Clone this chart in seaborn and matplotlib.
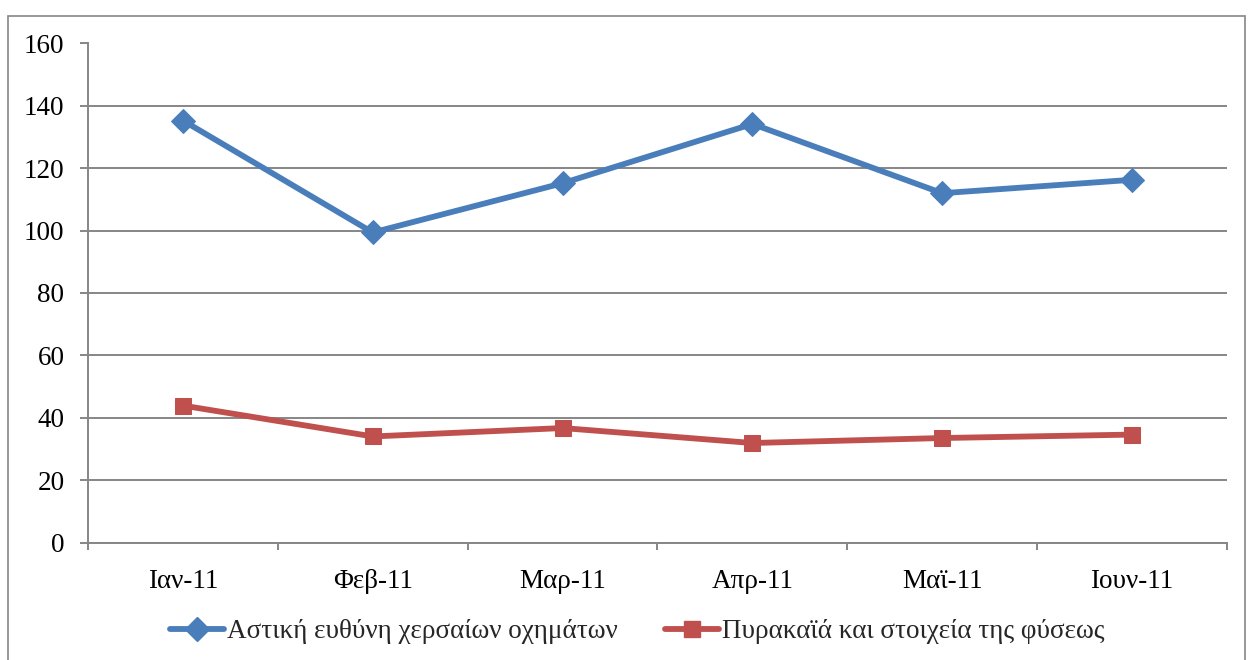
import matplotlib
matplotlib.use("Agg")
import matplotlib.pyplot as plt
import seaborn as sns
import pandas as pd
import numpy as np
from matplotlib.lines import Line2D
from matplotlib.patches import Rectangle

categories = ["Ιαν-11", "Φεβ-11", "Μαρ-11", "Απρ-11", "Μαϊ-11", "Ιουν-11"]
series_names = ["Αστική ευθύνη χερσαίων οχημάτων", "Πυρακαϊά και στοιχεία της φύσεως"]
blue_values = [135.3, 99.4, 115.2, 134.2, 112.0, 116.3]
red_values = [43.9, 34.0, 36.7, 31.9, 33.5, 34.6]
yticks = [0, 20, 40, 60, 80, 100, 120, 140, 160]

sns.set_theme(style="white")
plt.rcParams['font.family'] = ['Liberation Serif', 'DejaVu Serif']

BLUE = "#4A7EBB"
RED = "#C0504D"
GRID = "#868686"
FS = 19.5
LW = 4.2

fig = plt.figure(figsize=(12.48, 6.6), dpi=100)
ax = fig.add_axes([88/1248, 117.5/660, (1227-88)/1248, (542.5-43.5)/660])

df = pd.DataFrame({
    "x": list(range(len(categories))) * 2,
    "value": blue_values + red_values,
    "series": [series_names[0]] * len(categories) + [series_names[1]] * len(categories),
})

sns.lineplot(data=df[df.series == series_names[0]], x="x", y="value", ax=ax,
             color=BLUE, lw=LW, marker="D", markersize=12.5, markeredgecolor=BLUE,
             legend=False, zorder=3)
sns.lineplot(data=df[df.series == series_names[1]], x="x", y="value", ax=ax,
             color=RED, lw=LW, marker="s", markersize=11.5, markeredgecolor=RED,
             legend=False, zorder=3)

ax.set_xlim(-0.5, len(categories) - 0.5)
ax.set_ylim(0, 160)
ax.set_yticks(yticks)
ax.set_yticklabels([str(v) for v in yticks])
ax.set_xticks(range(len(categories)))
ax.set_xticklabels(categories)
ax.set_xticks(np.arange(-0.5, len(categories), 1.0), minor=True)
ax.set_xlabel("")
ax.set_ylabel("")

ax.yaxis.grid(True, color=GRID, lw=1.4)
ax.xaxis.grid(False)
for s in ["top", "right"]:
    ax.spines[s].set_visible(False)
for s in ["left", "bottom"]:
    ax.spines[s].set_color(GRID)
    ax.spines[s].set_linewidth(1.4)

ax.tick_params(axis="y", which="major", length=6, width=1.4, color=GRID, pad=11,
               labelsize=FS, left=True, labelcolor="black")
ax.tick_params(axis="x", which="major", length=0, pad=19, labelsize=FS, labelcolor="black")
ax.tick_params(axis="x", which="minor", length=5, width=1.4, color=GRID, bottom=True)

handles = [
    Line2D([], [], color=BLUE, lw=LW, marker="D", markersize=12.5, markeredgecolor=BLUE),
    Line2D([], [], color=RED, lw=LW, marker="s", markersize=11.5, markeredgecolor=RED),
]
fig.legend(handles, series_names, loc="center", bbox_to_anchor=(637.5/1248, 28/660), ncol=2,
           frameon=False, fontsize=FS, handlelength=2.0, handletextpad=0.1,
           columnspacing=1.75)

fig.patches.append(Rectangle((8/1248, -0.01), (1245-8)/1248, (660-15.5)/660 + 0.01,
                             transform=fig.transFigure, fill=False, edgecolor=GRID,
                             lw=1.2, zorder=0))

fig.savefig("out.png", dpi=100)
